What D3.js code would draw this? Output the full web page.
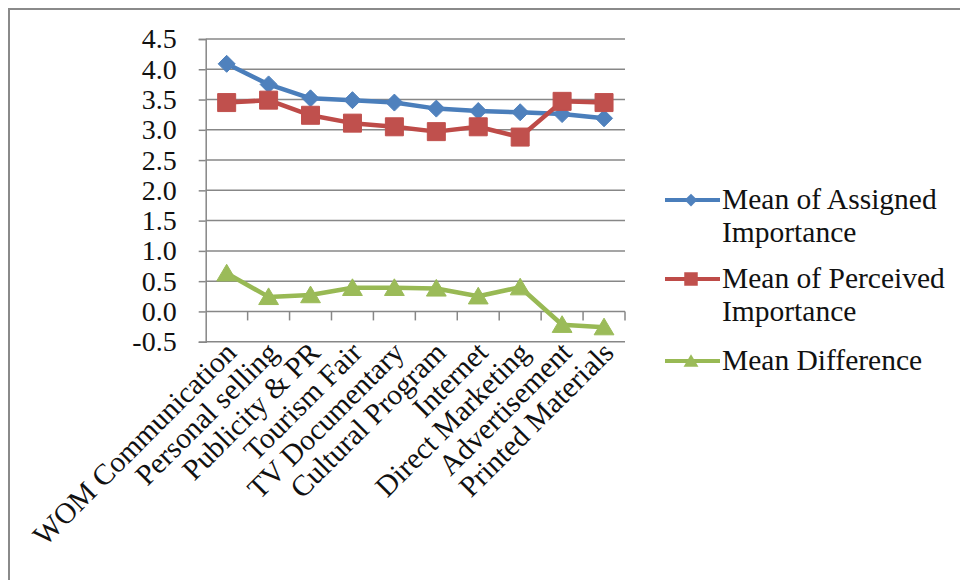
<!DOCTYPE html>
<html>
<head>
<meta charset="utf-8">
<script src="https://cdn.jsdelivr.net/npm/d3@7"></script>
<style>
  html, body { margin: 0; padding: 0; background: #fff; }
  svg { display: block; }
  svg text { font-family: "Liberation Serif", "DejaVu Serif", serif; fill: #111; }
</style>
</head>
<body>
<svg id="chart" width="960" height="580"></svg>
<script>
// Promotion channels and their mean scores
const categories = ["WOM Communication", "Personal selling", "Publicity & PR", "Tourism Fair",
  "TV Documentary", "Cultural Program", "Internet", "Direct Marketing", "Advertisement", "Printed Materials"];
const assigned  = [4.09, 3.75, 3.52, 3.49, 3.45, 3.35, 3.31, 3.29, 3.26, 3.19];
const perceived = [3.45, 3.49, 3.24, 3.11, 3.05, 2.97, 3.05, 2.88, 3.47, 3.45];
const difference = [0.63, 0.24, 0.27, 0.39, 0.39, 0.38, 0.25, 0.40, -0.22, -0.26];
const yTicks = [-0.5, 0.0, 0.5, 1.0, 1.5, 2.0, 2.5, 3.0, 3.5, 4.0, 4.5];
const seriesNames = ["Mean of Assigned Importance", "Mean of Perceived Importance", "Mean Difference"];

const serif = "'Liberation Serif', 'DejaVu Serif', serif";
const svg = d3.select("#chart");
const plot = { left: 205.7, right: 625, top: 39, bottom: 341.7 };
const gridColor = "#878787";

// outer chart frame (runs off the right and bottom edges)
svg.append("path")
  .attr("d", "M9,580 L9,9 L960,9")
  .attr("fill", "none").attr("stroke", "#8a8a8a").attr("stroke-width", 2);

const x = d3.scaleBand().domain(categories).range([plot.left, plot.right]).padding(0);
const y = d3.scaleLinear().domain([-0.5, 4.5]).range([plot.bottom, plot.top]);
const cx = d => x(d) + x.bandwidth() / 2;

// horizontal gridlines
svg.append("g").selectAll("line").data(yTicks).join("line")
  .attr("x1", plot.left).attr("x2", plot.right)
  .attr("y1", d => y(d)).attr("y2", d => y(d))
  .attr("stroke", gridColor).attr("stroke-width", 1.5);

// value axis
const yAxis = svg.append("g").attr("transform", `translate(${plot.left},0)`)
  .call(d3.axisLeft(y).tickValues(yTicks).tickFormat(d3.format(".1f")).tickSize(7).tickPadding(22));
yAxis.attr("font-family", serif).attr("font-size", 28);
yAxis.select(".domain").attr("stroke", gridColor).attr("stroke-width", 1.5);
yAxis.selectAll(".tick line").attr("stroke", gridColor).attr("stroke-width", 1.5);
yAxis.selectAll(".tick text")
  .attr("fill", "#111")
  .text(d => d < 0 ? "-" + Math.abs(d).toFixed(1) : d.toFixed(1));

// category axis crossing at zero, tick marks at category boundaries
const xAxis = svg.append("g").attr("transform", `translate(0,${y(0)})`);
xAxis.selectAll("line").data(categories).join("line")
  .attr("x1", d => x(d) + x.bandwidth()).attr("x2", d => x(d) + x.bandwidth())
  .attr("y1", 0).attr("y2", 9)
  .attr("stroke", gridColor).attr("stroke-width", 1.5);

// rotated category labels below the plot
svg.append("g").attr("font-family", serif).selectAll("text").data(categories).join("text")
  .attr("transform", d => `translate(${cx(d) + 4},347) rotate(-45)`)
  .attr("text-anchor", "end").attr("dy", "0.35em")
  .attr("font-size", 29.5)
  .text(d => d);

const series = [
  { name: seriesNames[0], values: assigned, line: "#4A7EBB", fill: "#4F81BD", shape: "diamond" },
  { name: seriesNames[1], values: perceived, line: "#BE4B48", fill: "#C0504D", shape: "square" },
  { name: seriesNames[2], values: difference, line: "#98B954", fill: "#9BBB59", shape: "triangle" }
];

function markerPath(shape, s) {
  if (shape === "diamond") return `M0,${-s} L${s},0 L0,${s} L${-s},0 Z`;
  if (shape === "square") return `M${-s},${-s} H${s} V${s} H${-s} Z`;
  return `M0,${-s * 1.0} L${s * 1.1},${s * 0.85} L${-s * 1.1},${s * 0.85} Z`;
}
const markerSize = { diamond: 8.5, square: 9, triangle: 9 };

const line = d3.line().x((d, i) => cx(categories[i])).y(d => y(d));

series.forEach(s => {
  const g = svg.append("g");
  g.append("path").datum(s.values)
    .attr("d", line).attr("fill", "none")
    .attr("stroke", s.line).attr("stroke-width", 4.5).attr("stroke-linejoin", "round");
  g.selectAll("path.m").data(s.values).join("path").attr("class", "m")
    .attr("transform", (d, i) => `translate(${cx(categories[i])},${y(d)})`)
    .attr("d", markerPath(s.shape, markerSize[s.shape]))
    .attr("fill", s.fill).attr("stroke", s.fill).attr("stroke-width", 1);
});

// legend
const legendRows = [
  { s: series[0], lines: ["Mean of Assigned", "Importance"], y: 200 },
  { s: series[1], lines: ["Mean of Perceived", "Importance"], y: 279 },
  { s: series[2], lines: ["Mean Difference"], y: 361 }
];
const lg = svg.append("g").attr("font-family", serif);
legendRows.forEach(r => {
  lg.append("line").attr("x1", 665).attr("x2", 720).attr("y1", r.y).attr("y2", r.y)
    .attr("stroke", r.s.line).attr("stroke-width", 4);
  lg.append("path").attr("transform", `translate(691,${r.y})`)
    .attr("d", markerPath(r.s.shape, markerSize[r.s.shape] * 0.75))
    .attr("fill", r.s.fill);
  const t = lg.append("text").attr("x", 722).attr("y", r.y + 9).attr("font-size", 29.5);
  r.lines.forEach((ln, i) => {
    t.append("tspan").attr("x", 722).attr("dy", i === 0 ? 0 : 33).text(ln);
  });
});
</script>
</body>
</html>
